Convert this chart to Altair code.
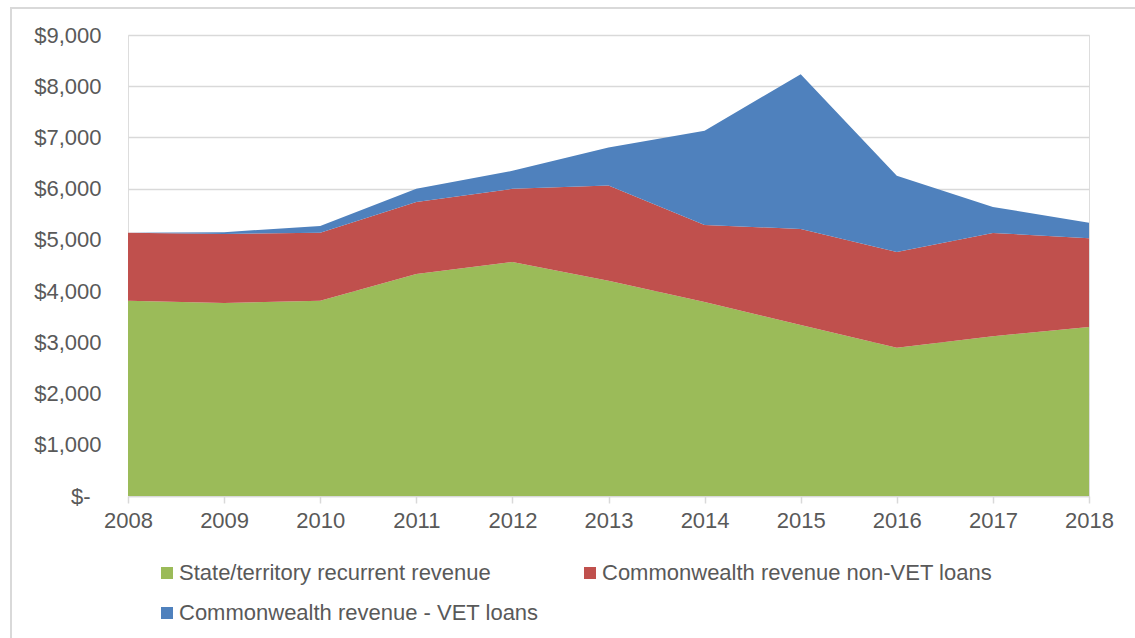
import altair as alt
import pandas as pd

years = [2008, 2009, 2010, 2011, 2012, 2013, 2014, 2015, 2016, 2017, 2018]
state_recurrent = [3810, 3770, 3810, 4336, 4570, 4200, 3785, 3340, 2895, 3120, 3300]
cw_non_vet = [1327, 1347, 1327, 1406, 1426, 1860, 1506, 1873, 1869, 2015, 1731]
cw_vet_loans = [0, 33, 136, 254, 352, 745, 1841, 3022, 1490, 507, 305]

series_names = [
    "State/territory recurrent revenue",
    "Commonwealth revenue non-VET loans",
    "Commonwealth revenue - VET loans",
]
series_colors = ["#9BBB59", "#C0504D", "#4F81BD"]
series_values = [state_recurrent, cw_non_vet, cw_vet_loans]

rows = []
for k, (name, vals) in enumerate(zip(series_names, series_values)):
    for y, v in zip(years, vals):
        rows.append({"year": y, "value": v, "series": name, "k": k})
df = pd.DataFrame(rows)

FONT = "Liberation Sans"
GREY = "#595959"
FS = 22

area = alt.Chart(df).mark_area(opacity=1).encode(
    x=alt.X(
        "year:Q",
        scale=alt.Scale(domain=[2008, 2018], nice=False, zero=False),
        axis=alt.Axis(
            values=years,
            format="d",
            title=None,
            grid=False,
            domain=True,
            domainColor="#d9d9d9",
            domainWidth=1.5,
            ticks=True,
            tickColor="#d9d9d9",
            tickWidth=1.5,
            tickSize=7,
            labelPadding=7,
            labelFlush=False,
            labelOverlap=False,
            labelFont=FONT,
            labelFontSize=FS,
            labelColor=GREY,
        ),
    ),
    y=alt.Y(
        "value:Q",
        stack="zero",
        scale=alt.Scale(domain=[0, 9000], nice=False),
        axis=alt.Axis(
            values=[0, 1000, 2000, 3000, 4000, 5000, 6000, 7000, 8000, 9000],
            labelExpr="datum.value == 0 ? '$-' : '$' + format(datum.value, ',')",
            title=None,
            grid=True,
            gridColor="#d9d9d9",
            gridWidth=1.5,
            domain=False,
            ticks=False,
            labelPadding={"condition": {"test": "datum.value == 0", "value": 38}, "value": 27},
            labelFlush=False,
            labelOverlap=False,
            labelFont=FONT,
            labelFontSize=FS,
            labelColor=GREY,
        ),
    ),
    color=alt.Color(
        "series:N",
        scale=alt.Scale(domain=series_names, range=series_colors),
        legend=alt.Legend(
            title=None,
            orient="none",
            direction="horizontal",
            legendX=28,
            legendY=527,
            padding=0,
            columns=2,
            columnPadding=40,
            rowPadding=18,
            symbolType="square",
            symbolSize=144,
            symbolStrokeWidth=0,
            symbolOpacity=1,
            labelFont=FONT,
            labelFontSize=FS,
            labelColor=GREY,
            labelLimit=600,
            labelOffset=1,
        ),
    ),
    order=alt.Order("k:Q"),
)

frame = alt.Chart(pd.DataFrame({"a": [0]})).mark_rect(
    fill="transparent", stroke="#d9d9d9", strokeWidth=2
).encode(
    x=alt.value(-117), x2=alt.value(1100), y=alt.value(-27), y2=alt.value(700)
)

chart = alt.layer(frame, area).properties(
    width=961,
    height=461,
    autosize=alt.AutoSizeParams(type="none"),
    padding={"left": 128, "top": 35, "right": 46, "bottom": 142},
).configure_view(stroke=None).configure(background="white")

chart.save("out.html", embed_options={"renderer": "svg", "actions": False})
